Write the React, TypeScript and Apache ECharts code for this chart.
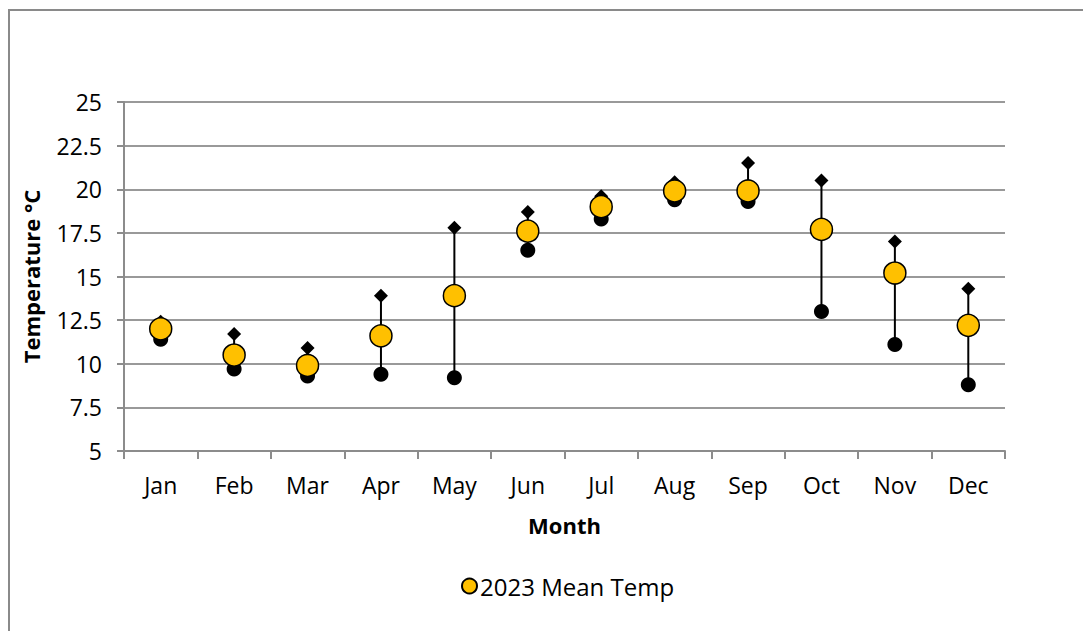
import React, { useEffect, useRef } from "react";
import * as echarts from "echarts";

const months = ["Jan", "Feb", "Mar", "Apr", "May", "Jun", "Jul", "Aug", "Sep", "Oct", "Nov", "Dec"];
const maxTemp = [12.4, 11.7, 10.9, 13.9, 17.8, 18.7, 19.6, 20.4, 21.5, 20.5, 17.0, 14.3];
const minTemp = [11.4, 9.7, 9.3, 9.4, 9.2, 16.5, 18.3, 19.4, 19.3, 13.0, 11.1, 8.8];
const meanTemp = [12.0, 10.5, 9.9, 11.6, 13.9, 17.6, 19.0, 19.9, 19.9, 17.7, 15.2, 12.2];

const FONT = "'Open Sans', 'Noto Sans', sans-serif";

export default function App() {
  const ref = useRef<HTMLDivElement>(null);
  useEffect(() => {
    if (!ref.current) return;
    const chart = echarts.init(ref.current, null, { renderer: "svg" });
    const rangeData = months.map((_, i) => [i, minTemp[i], maxTemp[i]]);
    chart.setOption({
      animation: false,
      textStyle: { fontFamily: FONT },
      graphic: [
        {
          type: "rect",
          shape: { x: 9, y: 10, width: 1200, height: 800 },
          style: { fill: "none", stroke: "#8a8a8a", lineWidth: 2 },
          silent: true,
        },
      ],
      grid: { left: 124, right: 78, top: 102, bottom: 180 },
      legend: {
        data: [{ name: "2023 Mean Temp", icon: "circle" }],
        bottom: 28,
        left: 456,
        itemWidth: 15,
        itemHeight: 15,
        itemGap: 5,
        textStyle: { fontFamily: FONT, fontSize: 24, color: "#000", padding: [0, 0, 0, -2] },
      },
      xAxis: {
        type: "category",
        data: months,
        boundaryGap: true,
        name: "Month",
        nameLocation: "middle",
        nameGap: 63,
        nameTextStyle: { fontFamily: FONT, fontSize: 22, fontWeight: "bold", color: "#000" },
        axisLine: { lineStyle: { color: "#8c8c8c", width: 2 } },
        axisTick: { show: true, length: 8, lineStyle: { color: "#8c8c8c", width: 2 } },
        axisLabel: { fontFamily: FONT, fontSize: 23, color: "#000", margin: 22 },
        splitLine: { show: false },
      },
      yAxis: {
        type: "value",
        min: 5,
        max: 25,
        interval: 2.5,
        name: "Temperature °C",
        nameLocation: "middle",
        nameGap: 82,
        nameRotate: 90,
        nameTextStyle: { fontFamily: FONT, fontSize: 22, fontWeight: "bold", color: "#000" },
        axisLine: { show: true, lineStyle: { color: "#8c8c8c", width: 2 } },
        axisTick: { show: true, length: 7, lineStyle: { color: "#8c8c8c", width: 2 } },
        axisLabel: { fontFamily: FONT, fontSize: 23, color: "#000", margin: 22 },
        splitLine: { show: true, lineStyle: { color: "#999999", width: 2 } },
      },
      series: [
        {
          name: "range",
          type: "custom",
          data: rangeData,
          z: 1,
          renderItem: (params: any, api: any) => {
            const p1 = api.coord([api.value(0), api.value(1)]);
            const p2 = api.coord([api.value(0), api.value(2)]);
            return {
              type: "line",
              shape: { x1: p1[0], y1: p1[1], x2: p2[0], y2: p2[1] },
              style: { stroke: "#000", lineWidth: 2 },
            };
          },
        },
        {
          name: "Max",
          type: "scatter",
          data: maxTemp,
          symbol: "diamond",
          symbolSize: [14, 14],
          itemStyle: { color: "#000", opacity: 1 },
          z: 2,
        },
        {
          name: "Min",
          type: "scatter",
          data: minTemp,
          symbol: "circle",
          symbolSize: 15,
          itemStyle: { color: "#000", opacity: 1 },
          z: 2,
        },
        {
          name: "2023 Mean Temp",
          type: "scatter",
          data: meanTemp,
          symbol: "circle",
          symbolSize: 22,
          itemStyle: { color: "#FFC000", borderColor: "#000", borderWidth: 1.5, opacity: 1 },
          z: 3,
        },
      ],
    });
    return () => chart.dispose();
  }, []);
  return (
    <div
      ref={ref}
      style={{ position: "absolute", left: 0, top: 0, width: 1083, height: 631 }}
    />
  );
}
